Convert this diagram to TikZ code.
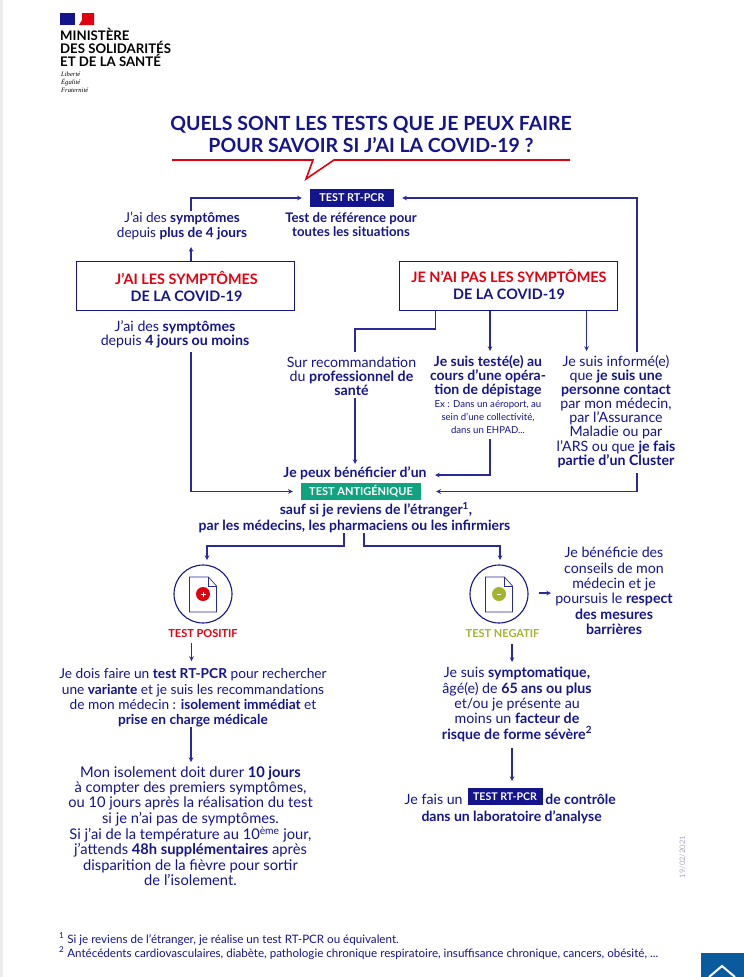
\documentclass[tikz,border=0pt]{standalone}
\usepackage{fontspec}
\usetikzlibrary{positioning}
\setmainfont{Lato}
\newfontfamily\logofont{Liberation Serif}
\definecolor{navy}{HTML}{14148C}
\definecolor{linkblue}{HTML}{2A2A9A}
\definecolor{redm}{HTML}{E1000F}
\definecolor{greenbox}{HTML}{10A37F}
\definecolor{greenm}{HTML}{A2B52C}
\definecolor{dategrey}{HTML}{A8A8CC}
\definecolor{upblue}{HTML}{0A5A9E}
\tikzset{
  body/.style={text=navy, align=center, inner sep=0pt, font=\fontsize{14.2}{14.1}\selectfont},
  bodybold/.style={body, font=\bfseries\fontsize{14}{14.1}\selectfont},
  bodyloose/.style={body, font=\fontsize{14.2}{15.3}\selectfont},
  small/.style={body, font=\fontsize{9.6}{12.6}\selectfont},
  bigbox/.style={draw=navy, line width=1pt, minimum width=218pt, minimum height=49pt, inner sep=0pt},
  tag/.style={text=white, inner sep=0pt, font=\bfseries\fontsize{10.8}{11}\selectfont},
  link/.style={draw=linkblue, line width=1.1pt},
}
\begin{document}
\begin{tikzpicture}[x=1pt, y=-1pt, >=stealth]
  \useasboundingbox (0,0) rectangle (744,977);
  \fill[black!7] (0,0) rectangle (3,977);

  % logo
  \fill[navy] (60,13) rectangle (75,25);
  \fill[redm] (82,13) -- (94,13) -- (94,25) -- (79,25) -- (82,20) -- cycle;
  \node[right, inner sep=0pt, text=black, align=left, font=\bfseries\fontsize{13.2}{13}\selectfont] (ministere) at (60,47.5) {MINISTÈRE\\DES SOLIDARITÉS\\ET DE LA SANTÉ};
  \node[right, inner sep=0pt, text=black, align=left, font=\logofont\itshape\fontsize{6.6}{8}\selectfont] (devise) at (61,82) {Liberté\\Égalité\\Fraternité};

  % title
  \node[inner sep=0pt, text=navy, align=center, font=\bfseries\fontsize{19.5}{22}\selectfont] (title) at (371,134) {QUELS SONT LES TESTS QUE JE PEUX FAIRE\\POUR SAVOIR SI J’AI LA COVID-19 ?};
  \draw[redm, line width=1.6pt] (172,160) -- (313,160) -- (306,179) -- (334,160) -- (570,160);

  \coordinate (plusstart) at (191,211);
  \coordinate (plusend) at (191,247);
  \coordinate (contactup) at (637,352);
  \coordinate (fourstart) at (191,352);
  \coordinate (recoout) at (435.5,310);
  \coordinate (recoturn) at (355,329);
  \coordinate (recoend) at (355,352);
  \coordinate (recostart) at (355,398);
  \coordinate (recotip) at (355,464);
  \coordinate (depistend) at (490,351);
  \coordinate (contactend) at (586.5,351);
  \coordinate (depiststart) at (490,439);
  \coordinate (depisttip) at (435,475);
  \coordinate (contactdown) at (637,473);
  \coordinate (posstart) at (344,533);
  \coordinate (negstart) at (364,533);
  \coordinate (posturn) at (344,546);
  \coordinate (negturn) at (364,546);

  % boxes
  \node[tag, fill=navy, minimum width=84pt, minimum height=18pt] (rtpcr) at (352,198) {TEST RT-PCR};
  \node[bigbox] (yesbox) at (185,285.5) {};
  \node[bigbox] (nobox) at (508,285.5) {};
  \node[inner sep=0pt, align=center, text=navy, font=\bfseries\fontsize{14.4}{17}\selectfont] (yestext) at (186.5,286.5) {\textcolor{redm}{J’AI LES SYMPTÔMES}\\DE LA COVID-19};
  \node[inner sep=0pt, align=center, text=navy, font=\bfseries\fontsize{14.4}{17}\selectfont] (notext) at (509,284.5) {\textcolor{redm}{JE N’AI PAS LES SYMPTÔMES}\\DE LA COVID-19};
  \node[tag, fill=greenbox, minimum width=120pt, minimum height=17pt, font=\bfseries\fontsize{11}{11}\selectfont] (antigen) at (361,491.5) {TEST ANTIGÉNIQUE};

  % texts
  \node[bodybold, font=\bfseries\fontsize{13.2}{14.1}\selectfont] (reference) at (351,225) {Test de référence pour\\toutes les situations};
  \node[body, font=\fontsize{13.6}{14.1}\selectfont] (plus) at (182,226) {J’ai des \textbf{symptômes}\\depuis \textbf{plus de 4 jours}};
  \node[body] (four) at (175,334) {J’ai des \textbf{symptômes}\\depuis \textbf{4 jours ou moins}};
  \node[body] (reco) at (351.5,376.5) {Sur recommandation\\du \textbf{professionnel de}\\\textbf{santé}};
  \node[bodybold] (depist) at (488,376.5) {Je suis testé(e) au\\cours d’une opéra-\\tion de dépistage};
  \node[small] (depistex) at (488,417) {Ex : Dans un aéroport, au\\sein d’une collectivité,\\dans un EHPAD...};
  \node[body] (contact) at (616,411.5) {Je suis informé(e)\\que \textbf{je suis une}\\\textbf{personne contact}\\par mon médecin,\\par l’Assurance\\Maladie ou par\\l’ARS ou que \textbf{je fais}\\\textbf{partie d’un Cluster}};
  \node[bodybold] (benefit) at (355,473) {Je peux bénéficier d’un};
  \node[bodybold] (sauf) at (376,510) {sauf si je reviens de l’étranger\textsuperscript{1},};
  \node[bodybold] (medecins) at (354.5,526) {par les médecins, les pharmaciens ou les infirmiers};

  % result icons
  \foreach \name/\xx/\tone in {pos/203/redm, neg/499/greenm} {
    \node[circle, draw=navy, line width=1.1pt, minimum size=58pt, inner sep=0pt] (\name) at (\xx,594) {};
    \draw[linkblue, line width=0.7pt, fill=white] (\xx-13.5,577) -- (\xx+5.5,577) -- (\xx+13.5,586) -- (\xx+13.5,612) -- (\xx-13.5,612) -- cycle;
    \draw[linkblue, line width=0.7pt] (\xx+5.5,577) -- (\xx+5.5,586) -- (\xx+13.5,586);
    \fill[\tone] (\xx,594) circle (7pt);
  }
  \draw[white, line width=1pt] (200.5,594) -- (205.5,594) (203,591.5) -- (203,596.5);
  \draw[white, line width=1pt] (497,594) -- (501,594);
  \node[inner sep=0pt, text=redm, font=\bfseries\fontsize{11}{12}\selectfont] (poslabel) at (203,634) {TEST POSITIF};
  \node[inner sep=0pt, text=greenm, font=\bfseries\fontsize{11}{12}\selectfont] (neglabel) at (502.5,634) {TEST NEGATIF};

  \node[bodyloose] (advice) at (614,591) {Je bénéficie des\\conseils de mon\\médecin et je\\poursuis le \textbf{respect}\\\textbf{des mesures}\\\textbf{barrières}};
  \node[bodyloose, font=\fontsize{13.7}{15.3}\selectfont] (posdo) at (193,698) {Je dois faire un \textbf{test RT-PCR} pour rechercher\\une \textbf{variante} et je suis les recommandations\\de mon médecin : \textbf{isolement immédiat} et\\\textbf{prise en charge médicale}};
  \node[bodyloose] (negdo) at (517,704.5) {Je suis \textbf{symptomatique,}\\âgé(e) de \textbf{65 ans ou plus}\\et/ou je présente au\\moins un \textbf{facteur de}\\\textbf{risque de forme sévère\textsuperscript{2}}};
  \node[bodyloose, font=\fontsize{14.7}{15.3}\selectfont] (isolement) at (190.5,826) {Mon isolement doit durer \textbf{10 jours}\\à compter des premiers symptômes,\\ou 10 jours après la réalisation du test\\si je n’ai pas de symptômes.\\Si j’ai de la température au 10\textsuperscript{ème} jour,\\j’attends \textbf{48h supplémentaires} après\\disparition de la fièvre pour sortir\\de l’isolement.};

  \node[tag, fill=navy, minimum width=75pt, minimum height=17pt, font=\bfseries\fontsize{10.6}{11}\selectfont] (control) at (505,796.5) {TEST RT-PCR};
  \node[body, left=4.5pt of control, yshift=-2.5pt] (fais) {Je fais un};
  \node[bodybold, right=2.5pt of control, yshift=-2.5pt] (controle) {de contrôle};
  \node[bodybold] (labo) at (511.6,817) {dans un laboratoire d’analyse};

  % connectors
  \draw[link, ->] (yesbox.north -| plusend) -- (plusend);
  \draw[link, ->, shorten >=8pt] (plusstart) |- (rtpcr.west);
  \draw[link, ->, shorten >=8pt] (contactup) |- (rtpcr.east);
  \draw[link] (recoout) |- (recoturn) -- (recoend);
  \draw[link, ->] (nobox.south -| depistend) -- (depistend);
  \draw[link, ->] (nobox.south -| contactend) -- (contactend);
  \draw[link, ->] (recostart) -- (recotip);
  \draw[link, ->] (depiststart) |- (depisttip);
  \draw[link, ->, shorten >=15pt] (contactdown) |- (antigen.east);
  \draw[link, ->, shorten >=8pt] (fourstart) |- (antigen.west);
  \draw[link, ->] (posstart) -- (posturn) -| (207,560);
  \draw[link, ->] (negstart) -- (negturn) -| (500,560);
  \draw[link, ->] (539,593) -- (551,593);
  \draw[link, ->] (191.5,643) -- (191.5,661);
  \draw[link, ->] (512,644) -- (512,662);
  \draw[link, ->] (191,727) -- (191,762);
  \draw[link, ->] (512,748) -- (512,781);

  % footer
  \node[rotate=90, inner sep=0pt, text=dategrey, font=\fontsize{7.6}{9}\selectfont] (date) at (682.5,857) {19/02/2021};
  \node[right, inner sep=0pt, text=navy, align=left, font=\fontsize{11.6}{14}\selectfont] (notes) at (59,946) {\textsuperscript{1} Si je reviens de l’étranger, je réalise un test RT-PCR ou équivalent.\\\textsuperscript{2} Antécédents cardiovasculaires, diabète, pathologie chronique respiratoire, insuffisance chronique, cancers, obésité, ...};
  \fill[upblue] (701,953) rectangle (744,977);
  \draw[white, line width=2pt] (709,977) -- (722,966) -- (735,977);
\end{tikzpicture}
\end{document}
